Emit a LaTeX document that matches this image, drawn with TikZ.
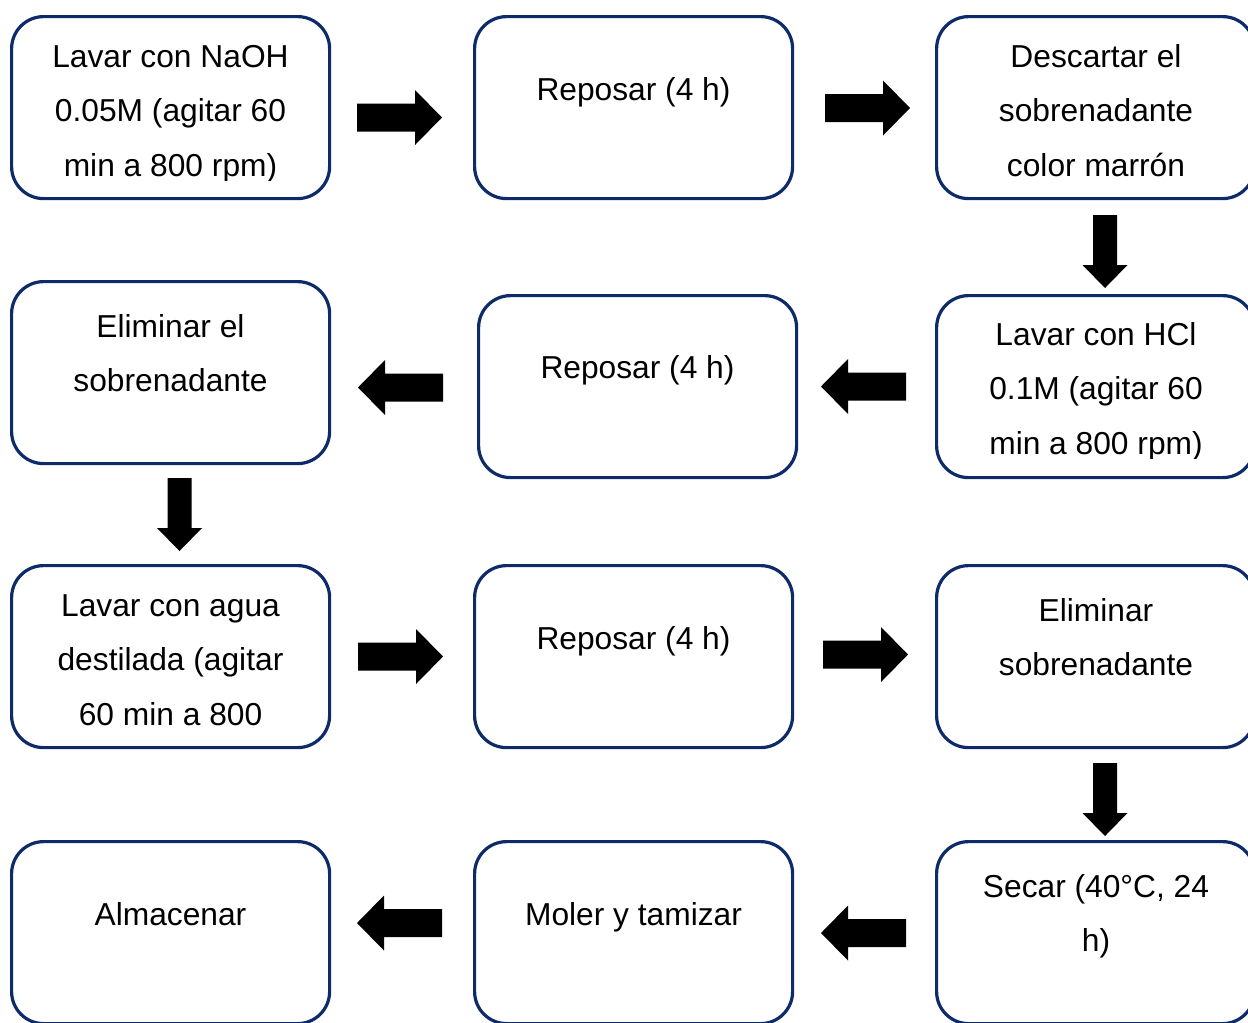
\documentclass[tikz,border=0pt]{standalone}
\usepackage{fontspec}
\setmainfont{Liberation Sans}
\definecolor{navyline}{RGB}{14,43,105}
\newcommand{\boxtext}[1]{\parbox[t]{240pt}{\centering #1}}
\tikzset{
  box/.style={draw=navyline, line width=2.4pt, rounded corners=24pt,
    minimum width=238.5pt, minimum height=136.5pt, anchor=north west,
    inner sep=0pt, fill=white},
  txt/.style={anchor=base, inner sep=0pt, font=\fontsize{23.8pt}{41.2pt}\selectfont},
  rarrow/.pic={\fill[black] (0,-14) -- (58,-14) -- (58,-27.5) -- (85,0) -- (58,27.5) -- (58,14) -- (0,14) -- cycle;},
  larrow/.pic={\fill[black] (0,-14) -- (-58,-14) -- (-58,-27.5) -- (-85,0) -- (-58,27.5) -- (-58,14) -- (0,14) -- cycle;},
  darrow/.pic={\fill[black] (-12,0) -- (-12,50) -- (-22.5,50) -- (0,73) -- (22.5,50) -- (12,50) -- (12,0) -- cycle;}
}
\begin{document}
\begin{tikzpicture}[x=0.75pt,y=-0.75pt]
\useasboundingbox (0,0) rectangle (1248,1022);
\clip (0,0) rectangle (1248,1022);
\fill[white] (0,0) rectangle (1248,1022);

% boxes
\node[box] (b1) at (10,15) {};
\node[box] (b2) at (473,15) {};
\node[box] (b3) at (935,15) {};
\node[box] (b4) at (10,280) {};
\node[box] (b5) at (477,294) {};
\node[box] (b6) at (935,294) {};
\node[box] (b7) at (10,564) {};
\node[box] (b8) at (473,564) {};
\node[box] (b9) at (935,564) {};
\node[box] (b10) at (10,840) {};
\node[box] (b11) at (473,840) {};
\node[box] (b12) at (935,840) {};

% texts
\begin{scope}
\clip (0,0) rectangle (1248,180);
\node[txt] (t1) at (170.5,67) {\boxtext{Lavar con NaOH\\0.05M (agitar 60\\min a 800 rpm)}};
\end{scope}
\node[txt] (t2) at (633.5,100) {\boxtext{Reposar (4 h)}};
\node[txt] (t3) at (1096,67) {\boxtext{Descartar el\\sobrenadante\\color marrón}};
\node[txt] (t4) at (170.5,337) {\boxtext{Eliminar el\\sobrenadante}};
\node[txt] (t5) at (637.5,378) {\boxtext{Reposar (4 h)}};
\begin{scope}
\clip (0,280) rectangle (1248,458);
\node[txt] (t6) at (1096,345) {\boxtext{Lavar con HCl\\0.1M (agitar 60\\min a 800 rpm)}};
\end{scope}
\node[txt] (t7) at (170.5,616) {\boxtext{Lavar con agua\\destilada (agitar\\60 min a 800}};
\node[txt] (t8) at (633.5,649) {\boxtext{Reposar (4 h)}};
\node[txt] (t9) at (1096,621) {\boxtext{Eliminar\\sobrenadante}};
\node[txt] (t10) at (170.5,925) {\boxtext{Almacenar}};
\node[txt] (t11) at (633.5,925) {\boxtext{Moler y tamizar}};
\node[txt] (t12) at (1096,897) {\boxtext{Secar (40°C, 24\\h)}};

% block arrows
\pic at (357,117.5) {rarrow};
\pic at (825,108) {rarrow};
\pic at (1105,215) {darrow};
\pic at (906,386.5) {larrow};
\pic at (443,387.5) {larrow};
\pic at (179.5,478) {darrow};
\pic at (358,656.5) {rarrow};
\pic at (823,654.5) {rarrow};
\pic at (1105,763) {darrow};
\pic at (906,933) {larrow};
\pic at (442,923) {larrow};
\end{tikzpicture}
\end{document}
